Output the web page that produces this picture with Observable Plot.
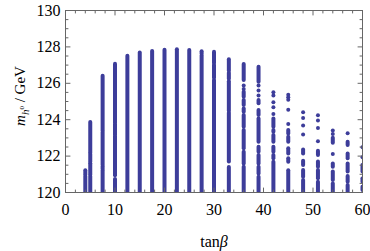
<!DOCTYPE html>
<html><head><meta charset="utf-8">
<script src="https://cdn.jsdelivr.net/npm/d3@7"></script>
<script src="https://cdn.jsdelivr.net/npm/@observablehq/plot@0.6"></script>
<style>html,body{margin:0;padding:0;background:#fff}</style>
</head><body><div id="chart"></div>
<script>
// Tick labels
const xTicks = [0, 10, 20, 30, 40, 50, 60];
const yTicks = [120, 122, 124, 126, 128, 130];

// Dense stretches of points (tanβ, lowest and highest m_h0 of the stretch)
const segTan = [4,4, 5,5,5,5, 7.5,7.5,7.5,7.5, 10,10,10,10, 12.5, 15, 17.5, 20, 22.5, 25, 27.5,27.5, 30,30,30,
  33,33,33,33,33, 36,36,36,36,36,36,36,36, 39,39,39,39,39,39,39,39, 42,42,42,42,42,42,
  45,45,45,45,45, 48,48,48,48, 51,51,51,51, 54,54,54,54, 57,57,57,57,57, 60,60,60];
const segLo = [120.0,120.98, 120.0,120.98,121.66,122.18, 120.0,121.26,121.48,123.38, 120.0,120.92,123.16,123.82,
  120.0, 120.0, 120.0, 120.0, 120.0, 120.0, 120.0,127.6, 120.0,126.28,127.1,
  120.0,121.68,124.47,126.22,126.68, 126.15,125.23,124.78,124.41,123.59,122.4,121.57,120.0,
  126.06,124.87,124.23,122.76,122.21,121.57,121.02,120.0, 123.59,123.31,122.76,122.21,121.85,120.0,
  123.22,122.76,122.12,121.66,120.0, 122.12,121.48,120.84,120.0, 122.03,121.39,120.75,120.0,
  122.71,121.39,120.66,120.0, 122.58,121.85,121.12,120.57,120.0, 121.12,120.57,120.11];
const segHi = [120.88,121.2, 120.88,121.58,122.1,123.85, 121.18,121.4,123.3,126.39, 120.72,123.08,123.74,127.05,
  127.49, 127.66, 127.75, 127.82, 127.84, 127.8, 127.5,127.74, 126.15,127.0,127.7,
  121.38,124.35,126.08,126.55,127.3, 127.03,125.51,125.05,124.59,124.23,123.4,122.21,121.39,
  126.88,125.05,124.5,124.04,122.49,122.03,121.39,120.84, 124.04,123.4,123.13,122.49,122.03,121.66,
  123.4,123.04,122.4,121.85,121.2, 122.34,121.72,121.21,120.66, 122.27,121.67,121.21,120.57,
  122.98,121.57,121.12,120.47, 122.76,122.12,121.57,120.88,120.38, 121.48,120.75,120.29];

// Isolated points
const dotTan = [36,36, 39,39,39, 42,42,42,42,42, 45,45,45,45,45, 48,48,48,48, 51,51,51,51, 54,54,54, 57, 60,60];
const dotMass = [125.88,125.69, 125.88,125.6,125.33, 125.51,125.33,124.96,124.69,124.32,
  125.37,125.24,125.1,124.54,123.77, 124.41,124.1,123.68,123.19, 124.25,123.96,123.55,122.82,
  123.41,123.22,122.12, 123.26, 122.49,121.94];

const segs = segTan.map((t, i) => ({t, lo: segLo[i], hi: segHi[i]}));
const dots = dotTan.map((t, i) => ({t, m: dotMass[i]}));

const col = "#3d3d9a";
const axisCol = "#666";
const serif = "'Liberation Serif', 'DejaVu Serif', serif";
const tickShape = {draw(ctx, l) { ctx.moveTo(0, 0); ctx.lineTo(0, -l); }};
const xMinor = d3.range(0, 61, 2).filter(v => v % 10 !== 0);
const yMinor = d3.range(120, 130.01, 0.5).filter(v => Math.abs(v / 2 - Math.round(v / 2)) > 1e-6);

function ticks(vals, len, side) {
  const o = {length: len, anchor: "start", shape: tickShape, stroke: axisCol, strokeWidth: 1};
  if (side === "bottom") return Plot.vector(vals, {...o, x: d => d, frameAnchor: "bottom", rotate: 0});
  if (side === "top") return Plot.vector(vals, {...o, x: d => d, frameAnchor: "top", rotate: 180});
  if (side === "left") return Plot.vector(vals, {...o, y: d => d, frameAnchor: "left", rotate: 90});
  return Plot.vector(vals, {...o, y: d => d, frameAnchor: "right", rotate: -90});
}

const plot = Plot.plot({
  width: 370, height: 251,
  marginLeft: 65, marginRight: 8, marginTop: 10, marginBottom: 59,
  style: {fontFamily: serif, fontSize: "16px", background: "#fff"},
  x: {domain: [0, 60]},
  y: {domain: [120, 130]},
  marks: [
    Plot.ruleX(segs, {x: "t", y1: "lo", y2: "hi", stroke: col, strokeWidth: 4, strokeLinecap: "round", clip: true}),
    Plot.dot(dots, {x: "t", y: "m", r: 2, fill: col, stroke: null, clip: true}),
    Plot.frame({stroke: axisCol}),
    ticks(xTicks, 4.5, "bottom"), ticks(xTicks, 4.5, "top"),
    ticks(xMinor, 2.5, "bottom"), ticks(xMinor, 2.5, "top"),
    ticks(yTicks, 4.5, "left"), ticks(yTicks, 4.5, "right"),
    ticks(yMinor, 2.5, "left"), ticks(yMinor, 2.5, "right"),
    Plot.axisX({ticks: xTicks, tickSize: 0, tickPadding: 11, label: null, fontSize: 16}),
    Plot.axisY({ticks: yTicks, tickSize: 0, tickPadding: 5, label: null, fontSize: 16})
  ]
});

const svg = d3.select(plot);
const xl = svg.append("text")
  .attr("x", 214).attr("y", 247).attr("text-anchor", "middle")
  .attr("font-size", 16).attr("fill", "#000");
xl.append("tspan").text("tan");
xl.append("tspan").attr("font-style", "italic").text("β");

const yl = svg.append("text")
  .attr("transform", "translate(25,96) rotate(-90)").attr("text-anchor", "middle")
  .attr("font-size", 15).attr("fill", "#000");
yl.append("tspan").attr("font-style", "italic").text("m");
yl.append("tspan").attr("font-style", "italic").attr("font-size", 11).attr("dy", 4).text("h");
yl.append("tspan").attr("font-size", 7).attr("dy", -5).text("0");
yl.append("tspan").attr("dy", 1).text(" / GeV");

svg.selectAll("text").attr("font-family", serif);
document.getElementById("chart").appendChild(plot);
</script>
</body></html>
